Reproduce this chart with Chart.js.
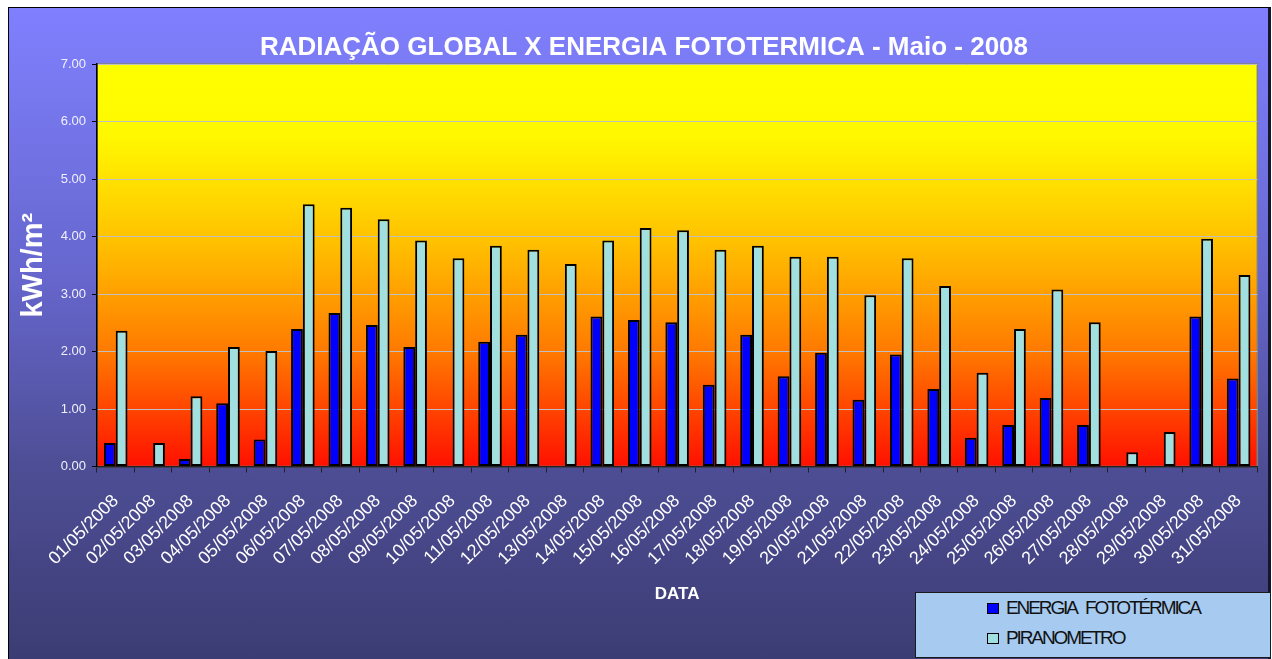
<!DOCTYPE html>
<html>
<head>
<meta charset="utf-8">
<script src="https://cdn.jsdelivr.net/npm/chart.js@4.4.0/dist/chart.umd.min.js"></script>
<style>
  html, body { margin: 0; padding: 0; background: #fff; width: 1272px; height: 659px; overflow: hidden;
    font-family: "Liberation Sans", Arial, sans-serif; }
  #frame { position: absolute; left: 8px; top: 7px; width: 1259px; height: 652px;
    border-left: 1px solid #000; border-top: 1px solid #000; border-right: 3px solid #15152e;
    background: linear-gradient(to bottom, #8080ff 0%, #6767cf 40%, #4e4e96 70%, #3c3c74 100%); }
  #chart { position: absolute; left: 0; top: 0; }
  #legend { position: absolute; left: 915px; top: 592px; width: 354px; height: 64px;
    border: 1px solid #1a1a1a; background: #a6caf0; }
  .item { position: absolute; left: 71px; height: 22px; display: flex; align-items: center;
    font-size: 19px; letter-spacing: -2.1px; word-spacing: 6px; color: #111; white-space: nowrap; }
  .swatch { width: 10px; height: 9px; border: 1px solid #000; margin-right: 7px; flex: none; }
</style>
</head>
<body>
<div id="frame"></div>
<canvas id="chart" width="1272" height="659"></canvas>
<div id="legend"></div>
<script>
// Daily values for May 2008 (kWh/m²)
const dias = [
  '01/05/2008','02/05/2008','03/05/2008','04/05/2008','05/05/2008','06/05/2008','07/05/2008','08/05/2008',
  '09/05/2008','10/05/2008','11/05/2008','12/05/2008','13/05/2008','14/05/2008','15/05/2008','16/05/2008',
  '17/05/2008','18/05/2008','19/05/2008','20/05/2008','21/05/2008','22/05/2008','23/05/2008','24/05/2008',
  '25/05/2008','26/05/2008','27/05/2008','28/05/2008','29/05/2008','30/05/2008','31/05/2008'
];
const energiaFototermica = [
  0.41, 0.00, 0.13, 1.10, 0.47, 2.39, 2.67, 2.46, 2.08, 0.00, 2.17, 2.29, 0.00, 2.61, 2.55, 2.51,
  1.42, 2.29, 1.57, 1.98, 1.16, 1.95, 1.35, 0.50, 0.72, 1.19, 0.72, 0.00, 0.00, 2.61, 1.53
];
const piranometro = [
  2.36, 0.41, 1.22, 2.08, 2.01, 4.56, 4.50, 4.30, 3.93, 3.62, 3.84, 3.77, 3.52, 3.93, 4.15, 4.11,
  3.77, 3.84, 3.65, 3.65, 2.98, 3.62, 3.14, 1.63, 2.39, 3.08, 2.51, 0.25, 0.60, 3.96, 3.33
];
const tituloGrafico = 'RADIAÇÃO GLOBAL X ENERGIA FOTOTERMICA - Maio - 2008';
const tituloX = 'DATA';
const tituloY = 'kWh/m²';
const nomesSeries = ['ENERGIA FOTOTÉRMICA', 'PIRANOMETRO'];
const coresSeries = ['#0000ff', '#a0e0e0'];

Chart.defaults.font.family = '"Liberation Sans", Arial, sans-serif';

// Yellow-to-red fill behind the plot area
const plotBackground = {
  id: 'plotBackground',
  beforeDraw(chart) {
    const { ctx, chartArea: a } = chart;
    const g = ctx.createLinearGradient(0, a.top, 0, a.bottom);
    g.addColorStop(0.00, '#ffff00');
    g.addColorStop(0.18, '#fff800');
    g.addColorStop(0.45, '#ffbf00');
    g.addColorStop(0.72, '#ff7800');
    g.addColorStop(1.00, '#ff1000');
    ctx.save();
    ctx.fillStyle = g;
    ctx.fillRect(a.left, a.top, a.right - a.left, a.bottom - a.top);
    ctx.strokeStyle = '#808080';
    ctx.lineWidth = 1.5;
    ctx.strokeRect(a.left, a.top, a.right - a.left, a.bottom - a.top);
    ctx.restore();
  }
};

const barStyle = { borderColor: '#000', borderWidth: 2, borderSkipped: false,
  barPercentage: 1, categoryPercentage: 0.63 };

const chart = new Chart(document.getElementById('chart'), {
  type: 'bar',
  data: {
    labels: dias,
    datasets: [
      Object.assign({ label: nomesSeries[0], data: energiaFototermica, backgroundColor: coresSeries[0] }, barStyle),
      Object.assign({ label: nomesSeries[1], data: piranometro, backgroundColor: coresSeries[1] }, barStyle)
    ]
  },
  options: {
    responsive: false,
    animation: false,
    layout: { padding: { left: 23, right: 7, top: 0, bottom: 0 } },
    plugins: {
      legend: { display: false },
      tooltip: { enabled: false },
      title: {
        display: true, text: tituloGrafico, color: '#ffffff',
        font: { size: 26, weight: 'bold' },
        padding: { top: 32, bottom: 0.8 }
      }
    },
    scales: {
      x: {
        grid: { display: true, drawOnChartArea: false, drawTicks: true, tickLength: 6, tickColor: '#222', offset: true },
        border: { display: true, color: '#222', width: 1.5 },
        ticks: { color: '#ffffff', font: { size: 18 }, minRotation: 45, maxRotation: 45, autoSkip: false, padding: 18 },
        title: { display: true, text: tituloX, color: '#ffffff', font: { size: 17, weight: 'bold' },
          padding: { top: 0, bottom: 54 } },
        afterFit(s) { s.height = 192.5; }
      },
      y: {
        min: 0, max: 7,
        ticks: { stepSize: 1, color: '#f0f0ff', font: { size: 13 }, padding: 6,
          callback: v => Number(v).toFixed(2) },
        grid: { color: '#c0c0c0', lineWidth: 1, drawTicks: true, tickLength: 5, tickColor: '#000' },
        border: { display: true, color: '#000', width: 1.5 },
        title: { display: true, text: tituloY, color: '#ffffff', font: { size: 29, weight: 'bold', lineHeight: 0.6 },
          padding: { top: 2, bottom: 0 } },
        afterFit(s) { s.width = 74; }
      }
    }
  },
  plugins: [plotBackground]
});

// Legend box built from the chart's datasets
const legend = document.getElementById('legend');
chart.data.datasets.forEach((ds, i) => {
  const item = document.createElement('div');
  item.className = 'item';
  item.style.top = (i === 0 ? 4 : 34) + 'px';
  const sw = document.createElement('span');
  sw.className = 'swatch';
  sw.style.background = ds.backgroundColor;
  const tx = document.createElement('span');
  tx.textContent = ds.label;
  item.appendChild(sw);
  item.appendChild(tx);
  legend.appendChild(item);
});
</script>
</body>
</html>
